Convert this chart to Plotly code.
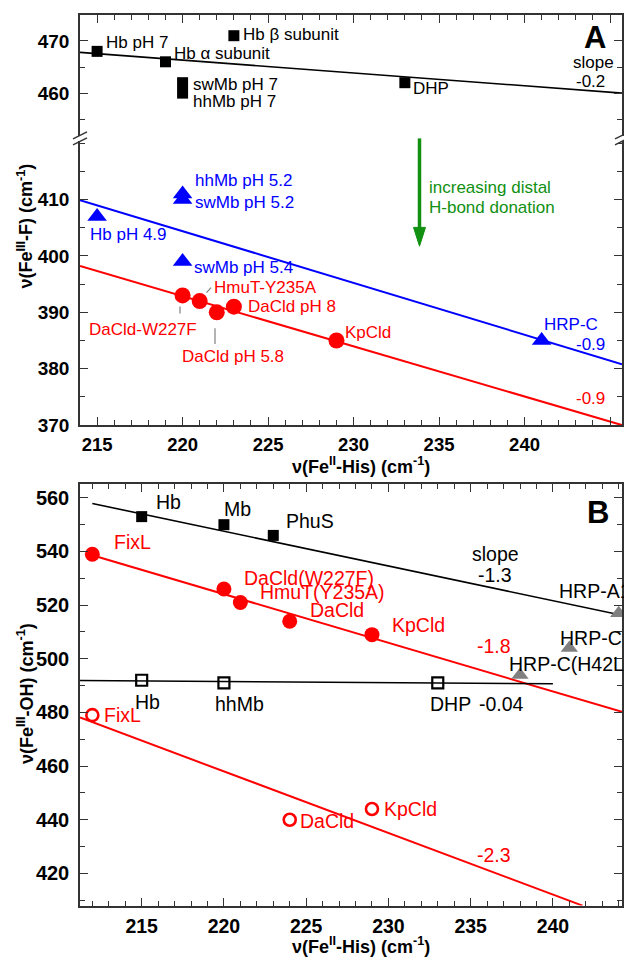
import plotly.graph_objects as go

W, H = 624, 968
def px(x): return x / W
def py(y): return 1 - y / H

# ---------------- Panel A data ----------------
# upper segment (black squares)
a_blk_x = [215, 219, 223, 220, 220, 233]
a_blk_y = [468, 466, 471, 462, 460, 462]
a_blk_names = ["Hb pH 7", "Hb α subunit", "Hb β subunit", "swMb pH 7", "hhMb pH 7", "DHP"]
a_blk_line_x = [214, 245.7]
a_blk_line_y = [467.8, 460.0]

# lower segment blue triangles
a_blue_x = [215, 220, 220, 220, 241]
a_blue_y = [407, 411, 410, 399, 385]
a_blue_names = ["Hb pH 4.9", "hhMb pH 5.2", "swMb pH 5.2", "swMb pH 5.4", "HRP-C"]
a_blue_line_x = [214, 245.7]
a_blue_line_y = [409.9, 380.8]

# lower segment red circles
a_red_x = [220, 221, 222, 223, 229]
a_red_y = [393, 392, 390, 391, 385]
a_red_names = ["DaCld-W227F", "HmuT-Y235A", "DaCld pH 5.8", "DaCld pH 8", "KpCld"]
a_red_line_x = [214, 245.7]
a_red_line_y = [398.2, 370.0]

a_lo_ticks = [370, 380, 390, 400, 410]
a_up_ticks = [460, 470]

# ---------------- Panel B data ----------------
b_blk_x = [215, 220, 223]
b_blk_y = [553, 550, 546]
b_blk_names = ["Hb", "Mb", "PhuS"]
b_blk_line_x = [212, 244.2]
b_blk_line_y = [557.9, 516.2]

b_gray_x = [244, 241, 238]
b_gray_y = [517, 504, 494]
b_gray_names = ["HRP-A1", "HRP-C", "HRP-C(H42L)"]

b_red_x = [212, 220, 221, 224, 229]
b_red_y = [539, 526, 521, 514, 509]
b_red_names = ["FixL", "DaCld(W227F)", "HmuT(Y235A)", "DaCld", "KpCld"]
b_red_line_x = [212, 244.2]
b_red_line_y = [538.6, 480.2]

b_osq_x = [215, 220, 233]
b_osq_y = [492, 491, 491]
b_osq_names = ["Hb", "hhMb", "DHP"]
b_osq_line_x = [211.25, 240]
b_osq_line_y = [491.9, 490.7]

b_ocir_x = [212, 224, 229]
b_ocir_y = [479, 440, 444]
b_ocir_names = ["FixL", "DaCld", "KpCld"]
b_ocir_line_x = [211.25, 241.8]
b_ocir_line_y = [478.1, 408.0]

RED = "#ff0000"
BLUE = "#0000ff"
GREEN = "#119011"
GRAY = "#808080"
FONT = "Liberation Sans"

fig = go.Figure()

def line(x, y, color, xa, ya, width=1.8):
    fig.add_trace(go.Scatter(x=x, y=y, mode="lines", line=dict(color=color, width=width),
                             xaxis=xa, yaxis=ya, showlegend=False, hoverinfo="skip"))

def pts(x, y, symbol, color, size, xa, ya, open_=False, lw=2.2, clip=False):
    if open_:
        m = dict(symbol=symbol, size=size, color="rgba(0,0,0,0)", line=dict(color=color, width=lw))
    else:
        m = dict(symbol=symbol, size=size, color=color, line=dict(width=0))
    fig.add_trace(go.Scatter(x=x, y=y, mode="markers", marker=m, xaxis=xa, yaxis=ya,
                             showlegend=False, cliponaxis=clip))

# Panel A upper: x2/y2 ; lower: x/y
line(a_blk_line_x, a_blk_line_y, "black", "x2", "y2", 1.6)
pts(a_blk_x, a_blk_y, "square", "black", 11, "x2", "y2")
line(a_blue_line_x, a_blue_line_y, BLUE, "x", "y", 2)
line(a_red_line_x, a_red_line_y, RED, "x", "y", 2)
pts(a_blue_x, a_blue_y, "triangle-up", BLUE, 17, "x", "y")
pts(a_red_x, a_red_y, "circle", RED, 16, "x", "y")

# Panel B: x3/y3
line(b_blk_line_x, b_blk_line_y, "black", "x3", "y3", 1.6)
line(b_red_line_x, b_red_line_y, RED, "x3", "y3", 2)
line(b_osq_line_x, b_osq_line_y, "black", "x3", "y3", 1.6)
line(b_ocir_line_x, b_ocir_line_y, RED, "x3", "y3", 2)
pts(b_blk_x, b_blk_y, "square", "black", 11, "x3", "y3")
pts(b_gray_x, b_gray_y, "triangle-up", GRAY, 15, "x3", "y3", clip=True)
pts(b_red_x, b_red_y, "circle", RED, 15, "x3", "y3")
pts(b_osq_x, b_osq_y, "square", "black", 11, "x3", "y3", open_=True, lw=2.2)
pts(b_ocir_x, b_ocir_y, "circle", RED, 12, "x3", "y3", open_=True, lw=2.6)

def tf(size):
    return dict(family=FONT, size=size, color="black", weight="bold")

axcommon = dict(showline=True, linecolor="#333", linewidth=1.5, ticks="inside", ticklen=8,
                tickwidth=1.3, tickcolor="#333", showgrid=False, zeroline=False,
                minor=dict(ticks="inside", ticklen=5, tickcolor="#333", tickwidth=1.2))

xdom = [px(80), px(622)]
yA_up = [py(137.5), py(15)]
yA_lo = [py(430), py(142.5)]
yB = [py(916), py(490)]

def m(d, **kw):
    r = dict(d); r.update(kw); return r

fig.update_layout(
    width=W, height=H, margin=dict(l=0, r=0, t=0, b=0),
    paper_bgcolor="white", plot_bgcolor="white",
    xaxis=m(axcommon, domain=xdom, anchor="y", range=[214, 245.7], dtick=5, tick0=215,
            ticklabelstandoff=2,
            tickfont=tf(18.5), minor=dict(axcommon["minor"], dtick=1), mirror=False),
    yaxis=m(axcommon, domain=yA_lo, anchor="x", range=[370, 420.4], tickmode="array",
            tickvals=a_lo_ticks, tickfont=tf(19), ticklabelstandoff=5,
            minor=dict(axcommon["minor"], dtick=5, tick0=370), mirror="allticks"),
    xaxis2=m(axcommon, domain=xdom, anchor="y2", side="top", range=[214, 245.7], dtick=5, tick0=215,
             minor=dict(axcommon["minor"], dtick=1), showticklabels=False, mirror=False),
    yaxis2=m(axcommon, domain=yA_up, anchor="x2", range=[451.8, 475], tickmode="array",
             tickvals=a_up_ticks, tickfont=tf(19), ticklabelstandoff=5,
             minor=dict(axcommon["minor"], dtick=5, tick0=455), mirror="allticks"),
    xaxis3=m(axcommon, domain=xdom, anchor="y3", range=[211.25, 244.2], dtick=5, tick0=215,
             ticklabelstandoff=2,
             tickfont=tf(19.5), minor=dict(axcommon["minor"], dtick=1), mirror="allticks"),
    yaxis3=m(axcommon, domain=yB, anchor="x3", range=[408, 565], dtick=20, tick0=420,
             tickfont=tf(20), ticklabelstandoff=5,
             minor=dict(axcommon["minor"], dtick=10), mirror="allticks"),
)

ann = []
def T(x, y, text, color="black", size=17, xanchor="left", bold=False, angle=0):
    ann.append(dict(x=px(x), y=py(y), xref="paper", yref="paper", text=text, showarrow=False,
                    xanchor=xanchor, yanchor="middle", textangle=angle,
                    font=dict(family=FONT, size=size, color=color, weight="bold" if bold else "normal")))

# Panel A labels
T(104, 43, a_blk_names[0])
T(172, 54, a_blk_names[1])
T(241, 35, a_blk_names[2])
T(191, 85, a_blk_names[3])
T(191, 103, a_blk_names[4])
T(411, 90, a_blk_names[5])
T(595, 38, "A", size=31, xanchor="center", bold=True)
T(593, 63, "slope", xanchor="center")
T(590, 82, "-0.2", xanchor="center")
T(427, 190, "increasing distal", color=GREEN)
T(427, 210, "H-bond donation", color=GREEN)
T(193, 183, a_blue_names[1], color=BLUE)
T(193, 205, a_blue_names[2], color=BLUE)
T(88, 237, a_blue_names[0], color=BLUE)
T(192, 271, a_blue_names[3], color=BLUE)
T(542, 328, a_blue_names[4], color=BLUE)
T(607, 348, "-0.9", color=BLUE, xanchor="right")
T(607, 403, "-0.9", color=RED, xanchor="right")
T(212, 291, a_red_names[1], color=RED)
T(246, 310, a_red_names[3], color=RED)
T(87, 333, a_red_names[0], color=RED)
T(180, 361, a_red_names[2], color=RED)
T(343, 336, a_red_names[4], color=RED)

# Panel B labels
BS = 19.5
T(154, 508, b_blk_names[0], size=BS)
T(222, 515, b_blk_names[1], size=BS)
T(284, 527, b_blk_names[2], size=BS)
T(598, 518, "B", size=31, xanchor="center", bold=True)
T(495, 560, "slope", xanchor="center", size=BS)
T(495, 582, "-1.3", xanchor="center", size=BS)
T(557, 598, b_gray_names[0], size=BS)
T(558, 645, b_gray_names[1], size=BS)
T(507, 672, b_gray_names[2], size=BS)
T(112, 548, b_red_names[0], color=RED, size=BS)
T(242, 585, b_red_names[1], color=RED, size=BS)
T(258, 599, b_red_names[2], color=RED, size=BS)
T(308, 617, b_red_names[3], color=RED, size=BS)
T(390, 632, b_red_names[4], color=RED, size=BS)
T(494, 653, "-1.8", color=RED, xanchor="center", size=BS)
T(133, 710, b_osq_names[0], size=BS)
T(213, 712, b_osq_names[1], size=BS)
T(428, 712, b_osq_names[2], size=BS)
T(477, 712, "-0.04", size=BS)
T(102, 723, b_ocir_names[0], color=RED, size=BS)
T(298, 830, b_ocir_names[1], color=RED, size=BS)
T(382, 818, b_ocir_names[2], color=RED, size=BS)
T(494, 865, "-2.3", color=RED, xanchor="center", size=BS)

# axis titles
T(361, 471, "ν(Fe<sup>II</sup>-His) (cm<sup>-1</sup>)", size=18, xanchor="center", bold=True)
T(361, 956, "ν(Fe<sup>II</sup>-His) (cm<sup>-1</sup>)", size=18, xanchor="center", bold=True)
T(25, 229, "ν(Fe<sup>III</sup>-F) (cm<sup>-1</sup>)", size=18, xanchor="center", bold=True, angle=-90)
T(25, 702, "ν(Fe<sup>III</sup>-OH) (cm<sup>-1</sup>)", size=18, xanchor="center", bold=True, angle=-90)

fig.update_layout(annotations=ann)

shapes = []
def seg(x0, y0, x1, y1, color, width):
    shapes.append(dict(type="line", xref="paper", yref="paper", x0=px(x0), y0=py(y0),
                       x1=px(x1), y1=py(y1), line=dict(color=color, width=width)))
# break marks
for xb in (80, 622):
    shapes.append(dict(type="rect", xref="paper", yref="paper", x0=px(xb - 3), x1=px(xb + 3),
                       y0=py(142.5), y1=py(137.5), fillcolor="white", line=dict(width=0)))
    for yb in (137, 143):
        seg(xb - 7, yb + 3.5, xb + 7, yb - 3.5, "#333", 1.4)
# leader lines
seg(180, 310, 180, 317, GRAY, 1.2)
seg(215, 332, 215, 348, GRAY, 1.2)
seg(206.5, 296, 211, 291, GRAY, 1.2)
# green arrow
seg(419.5, 140, 419.5, 235, GREEN, 3.5)
shapes.append(dict(type="path", xref="paper", yref="paper",
                   path=f"M {px(413.5)} {py(230)} L {px(425.5)} {py(230)} L {px(419.5)} {py(249)} Z",
                   fillcolor=GREEN, line=dict(color=GREEN, width=1)))
fig.update_layout(shapes=shapes)

fig.write_html("out.html")
